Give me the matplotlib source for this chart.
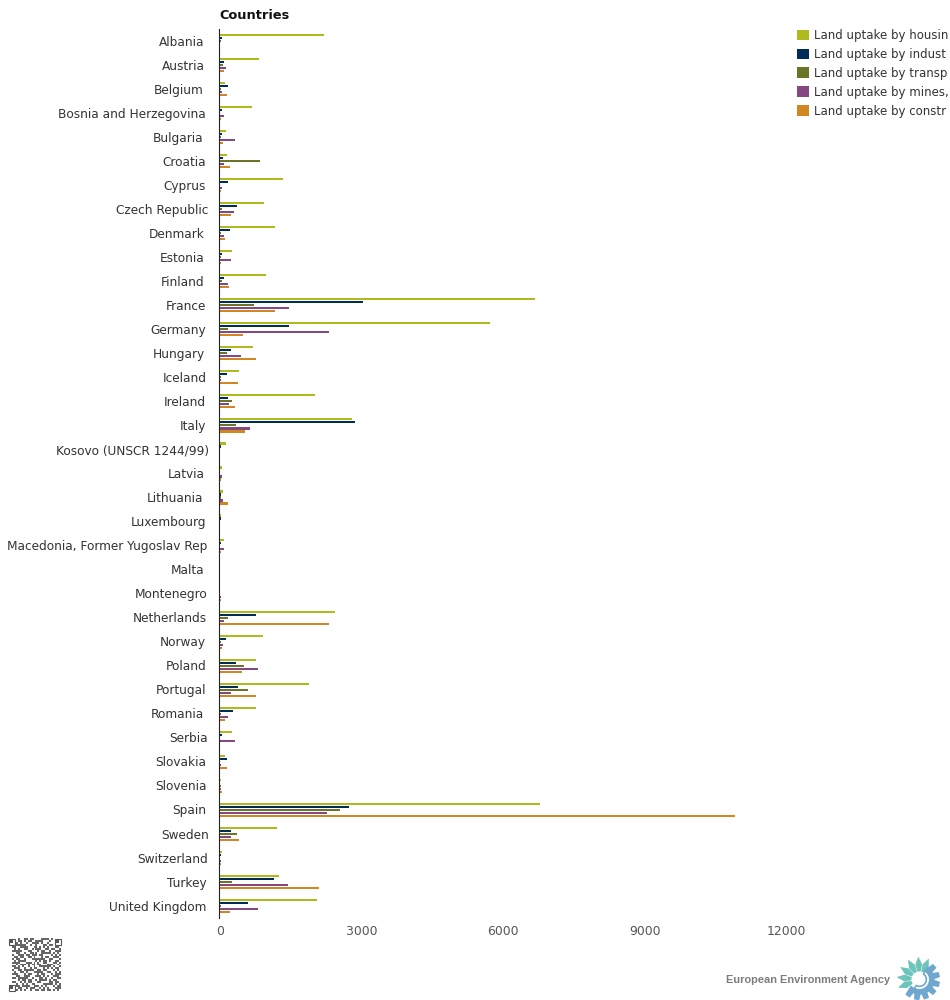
import numpy as np
import matplotlib
matplotlib.use("Agg")
import matplotlib.pyplot as plt
from matplotlib.transforms import ScaledTranslation
from matplotlib.patches import Rectangle, Polygon, Wedge
from matplotlib.colors import ListedColormap

countries = ["Albania", "Austria", "Belgium", "Bosnia and Herzegovina", "Bulgaria", "Croatia", "Cyprus",
             "Czech Republic", "Denmark", "Estonia", "Finland", "France", "Germany", "Hungary", "Iceland",
             "Ireland", "Italy", "Kosovo (UNSCR 1244/99)", "Latvia", "Lithuania", "Luxembourg",
             "Macedonia, Former Yugoslav Rep", "Malta", "Montenegro", "Netherlands", "Norway", "Poland",
             "Portugal", "Romania", "Serbia", "Slovakia", "Slovenia", "Spain", "Sweden", "Switzerland",
             "Turkey", "United Kingdom"]

housing = [2213, 834, 113, 686, 134, 155, 1343, 940, 1174, 262, 983, 6668, 5715, 707, 410, 2022, 2807, 134, 42, 70,
           28, 92, 0, 0, 2446, 919, 770, 1895, 770, 262, 113, 28, 6795, 1216, 50, 1258, 2064]
industry = [50, 92, 177, 50, 50, 70, 177, 368, 219, 50, 92, 3040, 1470, 240, 155, 177, 2870, 14, 10, 28,
            28, 28, 0, 0, 770, 134, 346, 389, 283, 50, 155, 5, 2743, 240, 21, 1152, 601]
transport = [28, 70, 28, 7, 21, 855, 7, 42, 28, 14, 50, 728, 177, 155, 28, 262, 346, 0, 0, 28,
             0, 5, 0, 0, 177, 28, 516, 601, 14, 5, 7, 21, 2552, 368, 5, 262, 28]
mines = [0, 134, 50, 92, 325, 92, 42, 304, 92, 240, 177, 1470, 2319, 452, 28, 198, 643, 0, 42, 70,
         0, 92, 0, 15, 92, 70, 813, 240, 177, 325, 28, 14, 2276, 240, 28, 1449, 813]
construction = [0, 92, 155, 28, 70, 219, 28, 240, 113, 28, 198, 1174, 495, 770, 389, 325, 537, 0, 14, 177,
                0, 28, 0, 15, 2319, 50, 474, 770, 113, 0, 155, 50, 10928, 410, 28, 2107, 219]

series_names = ["Land uptake by housin",
                "Land uptake by indust",
                "Land uptake by transp",
                "Land uptake by mines,",
                "Land uptake by constr"]
series_values = [housing, industry, transport, mines, construction]
series_colors = ["#aebb1c", "#002d56", "#6c7527", "#854880", "#d08622"]
x_ticks = [0, 3000, 6000, 9000, 12000]
label_right_px = [205.7, 205.7, 204.7, 206.7, 204.7, 206.7, 206.7, 209, 205.7, 205.7, 205.7, 207, 207, 205.7, 207.7,
                  206.7, 206.7, 210, 205.7, 203.7, 206.7, 208.7, 205.7, 208.7, 207.7, 207, 207, 207, 204.7, 208.7,
                  206.7, 207.7, 206.7, 209.7, 208.7, 207, 207.7]
qr_rows = ["1A6C3D5", "0B59E26", "1D27A4B", "07C91B3", "19E3546", "0A65CD9", "1F18B27", "064D3EA", "13B7615",
           "0D9A2CE", "1647F31", "0BC15A6", "1E3A98D", "05D6C72", "1A927E9", "0E4B156", "137CD8A", "09A3E65",
           "1C58B17", "0671D4E", "1BE4693", "02D97AC", "1958C36", "0CA61F5", "16F3A8B", "0B2E547", "1D49B6A"]

W, H = 950, 1000
fig = plt.figure(figsize=(W / 100, H / 100), dpi=100)
plt.rcParams["font.family"] = "DejaVu Sans"
ax = fig.add_axes([220 / W, 1 - 918 / H, (786 - 220) / W, (918 - 29) / H])

# set_position resets the ticks, so it comes before any tick styling
for s in ["top", "right", "bottom"]:
    ax.spines[s].set_visible(False)
ax.spines["left"].set_color("#222222")
ax.spines["left"].set_linewidth(0.8)
ax.spines["left"].set_position(("outward", 0.6))

pos = np.arange(len(countries))
bar_h = 2.1 / 24
step = 3 / 24
handles = []
for i, (name, vals, col) in enumerate(zip(series_names, series_values, series_colors)):
    b = ax.barh(pos + (i - 2) * step, vals, height=bar_h, color=col, label=name, linewidth=0)
    handles.append(b)

ax.set_xlim(0, 12000)
ax.set_ylim(len(countries) - 0.5, -0.5)
ax.set_yticks(pos)
ax.set_yticklabels(countries, fontsize=8.7, color="#333333")
ax.set_xticks(x_ticks)
ax.set_xticklabels([str(t) for t in x_ticks], fontsize=8.9, color="#555555")
ax.tick_params(axis="y", length=0, pad=0)
ax.tick_params(axis="x", length=0, pad=5)
ax.set_title("Countries", loc="left", fontweight="bold", fontsize=9.3, color="#111111", pad=7.5, x=-0.001)

for lbl, r in zip(ax.get_yticklabels(), label_right_px):
    dx = (r - 220) / 100
    lbl.set_transform(lbl.get_transform() + ScaledTranslation(dx, 0.004, fig.dpi_scale_trans))

fig.legend(handles=handles, loc="upper left", bbox_to_anchor=(797 / W, 1 - 29 / H), frameon=False, borderpad=0,
           borderaxespad=0, fontsize=8.5, handlelength=1.0, handleheight=1.0, handletextpad=0.4, labelspacing=0.5,
           labelcolor="#333333")

ov = fig.add_axes([0, 0, 1, 1], zorder=-1)
ov.set_xlim(0, W)
ov.set_ylim(H, 0)
ov.axis("off")

# QR-code stamp
bits = np.array([[int(b) for b in format(int(r, 16), "028b")[1:]] for r in qr_rows])
ov.imshow(bits, cmap=ListedColormap(["white", "#666666"]), extent=(8, 61, 991, 938), interpolation="nearest",
          aspect="auto", zorder=1)
for fx, fy in [(8, 938), (54, 938), (8, 984)]:
    ov.add_patch(Rectangle((fx - 1, fy - 1), 9, 9, fc="white", ec="none", zorder=2))
    ov.add_patch(Rectangle((fx + 0.5, fy + 0.5), 6, 6, fc="white", ec="#555555", lw=0.8, zorder=3))
    ov.add_patch(Rectangle((fx + 2, fy + 2), 3, 3, fc="#555555", ec="none", zorder=3))
ov.set_xlim(0, W)
ov.set_ylim(H, 0)

# EEA logo
ov.text(808.5, 980, "European Environment Agency", fontsize=7.9, fontweight="bold", color="#7d7d7d",
        ha="center", va="center", family="Liberation Sans")
cx, cy = 919.5, 979.5
teal, blue = "#6cc4bb", "#6fa7cf"
c = np.array([cx, cy])
for a in [66, 93, 120, 147, 174, 201]:
    t = np.deg2rad(a)
    n = np.array([-np.sin(t), -np.cos(t)])
    d = np.array([np.cos(t), -np.sin(t)])
    ov.add_patch(Polygon([c + 8 * d + 1.6 * n, c + 15 * d + 3.4 * n, c + 23 * d, c + 15 * d - 3.4 * n,
                          c + 8 * d - 1.6 * n], fc=teal, ec="none"))
for a in [42, 14, -14, -42, -70, -98, -126]:
    t = np.deg2rad(a)
    n = np.array([-np.sin(t), -np.cos(t)])
    d = np.array([np.cos(t), -np.sin(t)])
    ov.add_patch(Polygon([c + 10 * d + 3.6 * n, c + 20.5 * d + 2.6 * n, c + 20.5 * d - 2.6 * n, c + 10 * d - 3.6 * n],
                         fc=blue, ec="none"))
ov.add_patch(Wedge((cx, cy), 15, -60, 125, width=9, fc=blue, ec="none", zorder=2))
ov.add_patch(Wedge((cx, cy), 9.5, -50, 115, width=1.8, fc="white", ec="none", zorder=3))

fig.savefig("out.png", dpi=100)
